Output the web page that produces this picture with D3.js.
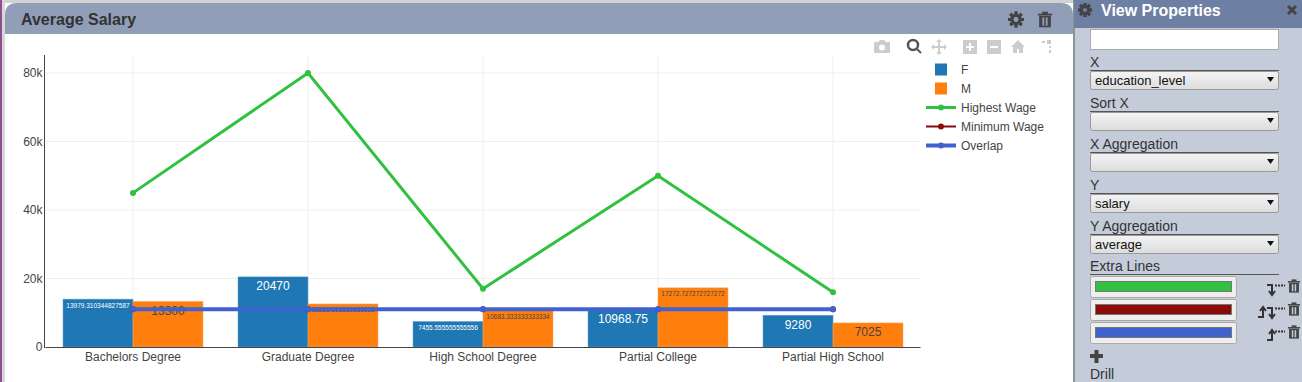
<!DOCTYPE html>
<html>
<head>
<meta charset="utf-8">
<script src="https://cdnjs.cloudflare.com/ajax/libs/d3/7.8.5/d3.min.js"></script>
<style>
html, body { margin: 0; padding: 0; width: 1302px; height: 382px; overflow: hidden; background: #fff; }
text { font-family: "Liberation Sans", Arial, sans-serif; }
</style>
</head>
<body>
<svg id="chart" width="1302" height="382">
  <defs>
    <linearGradient id="selectFill" x1="0" y1="0" x2="0" y2="1">
      <stop offset="0" stop-color="#f4f4f4"></stop>
      <stop offset="1" stop-color="#dcdcdc"></stop>
    </linearGradient>
  </defs>
</svg>
<script>
// chart values
const categories = ["Bachelors Degree", "Graduate Degree", "High School Degree", "Partial College", "Partial High School"];
const femaleSalary = [13979.310344827587, 20470, 7455.555555555556, 10968.75, 9280];
const maleSalary = [13300, 12566.666666666666, 10683.333333333334, 17272.727272727272, 7025];
const highestWage = [45000, 80000, 17000, 50000, 16000];
const minimumWage = [11000, 11000, 11000, 11000, 11000];
const overlap = [11000, 11000, 11000, 11000, 11000];
const yTicks = [0, 20000, 40000, 60000, 80000];
const femaleLabels = ["13979.310344827587", "20470", "7455.555555555556", "10968.75", "9280"];
const maleLabels = ["13300", "12566.666666666666", "10683.333333333334", "17272.727272727272", "7025"];
const legendNames = ["F", "M", "Highest Wage", "Minimum Wage", "Overlap"];
const panelFields = [["X", "education_level"], ["Sort X", ""], ["X Aggregation", ""], ["Y", "salary"], ["Y Aggregation", "average"]];

const svg = d3.select("#chart");

// page frame
svg.append("rect").attr("width", 1302).attr("height", 382).attr("fill", "#fff");
svg.append("rect").attr("width", 1073).attr("height", 3).attr("fill", "#d2d2d2");
svg.append("rect").attr("width", 2).attr("height", 382).attr("fill", "#8d4f8f");
svg.append("rect").attr("x", 2).attr("width", 3).attr("height", 382).attr("fill", "#d8d8d8");
svg.append("path").attr("d", "M5,34V15Q5,3 17,3H1061Q1073,3 1073,15V34Z").attr("fill", "#919eb8");
svg.append("text").attr("x", 21).attr("y", 25).attr("font-size", 16).attr("font-weight", 700).attr("fill", "#333").text("Average Salary");

const Margin = { top: 73, left: 45.5, right: 920.5, bottom: 347 };

const x = d3.scaleBand().domain(categories).range([Margin.left, Margin.right]).padding(0);
const xInner = d3.scaleBand().domain(["F", "M"]).range([17.5, 157.5]);
const y = d3.scaleLinear().domain([0, 80000]).range([Margin.bottom, Margin.top]);
const center = d => x(d) + x.bandwidth() / 2;

// grid
const grid = svg.append("g").attr("stroke", "#eee").attr("stroke-width", 1);
yTicks.slice(1).forEach(t => {
    grid.append("line").attr("x1", Margin.left).attr("x2", Margin.right).attr("y1", y(t)).attr("y2", y(t));
});
categories.forEach(c => {
    grid.append("line").attr("x1", center(c)).attr("x2", center(c)).attr("y1", 55).attr("y2", Margin.bottom);
});

// bars
function drawBars(values, labels, key, fill, edge, textFill) {
    const g = svg.append("g");
    categories.forEach((c, i) => {
        const bx = x(c) + xInner(key);
        const bw = xInner.bandwidth();
        g.append("rect").attr("x", bx).attr("y", y(values[i]))
            .attr("width", bw).attr("height", Margin.bottom - y(values[i]))
            .attr("fill", fill).attr("stroke", edge).attr("stroke-width", 0.5);
        // long numbers are shrunk to fit the bar, like plotly does
        const long = labels[i].length > 10;
        g.append("text").attr("x", bx + bw / 2).attr("y", y(values[i]) + (long ? 8.5 : 13.5))
            .attr("text-anchor", "middle").attr("font-size", long ? 6.5 : 12)
            .attr("fill", textFill).text(labels[i]);
    });
}
drawBars(femaleSalary, femaleLabels, "F", "#1f77b4", "#6aa5cd", "#fff");
drawBars(maleSalary, maleLabels, "M", "#ff7f0e", "#ffa95e", "#444");

// lines
const lineGen = vals => d3.line().x((d, i) => center(categories[i])).y(d => y(d))(vals);
function drawLine(vals, color, w, r) {
    const g = svg.append("g");
    g.append("path").attr("d", lineGen(vals)).attr("fill", "none").attr("stroke", color).attr("stroke-width", w);
    vals.forEach((v, i) => {
        g.append("circle").attr("cx", center(categories[i])).attr("cy", y(v)).attr("r", r).attr("fill", color);
    });
}
drawLine(minimumWage, "#8b0a0a", 2, 3);
drawLine(highestWage, "#2fc13f", 3, 3);
drawLine(overlap, "#4062cf", 4, 3);

// axes
const yAxis = d3.axisLeft(y).tickValues(yTicks).tickSize(0).tickPadding(3)
    .tickFormat(d => d === 0 ? "0" : (d / 1000) + "k");
const yG = svg.append("g").attr("transform", "translate(" + Margin.left + ",0)").call(yAxis);
yG.select(".domain").remove();
yG.selectAll("text").attr("font-size", 12).attr("fill", "#444");
svg.append("line").attr("x1", 44.5).attr("x2", 44.5).attr("y1", 55).attr("y2", 348)
    .attr("stroke", "#444").attr("stroke-width", 1);

const xAxis = d3.axisBottom(x).tickSize(0).tickPadding(5);
const xG = svg.append("g").attr("transform", "translate(0," + Margin.bottom + ")").call(xAxis);
xG.select(".domain").remove();
xG.selectAll("text").attr("font-size", 12).attr("fill", "#444");
svg.append("line").attr("x1", Margin.left).attr("x2", Margin.right).attr("y1", 347.5).attr("y2", 347.5)
    .attr("stroke", "#444").attr("stroke-width", 1);

// legend
const legendColors = ["#1f77b4", "#ff7f0e", "#2fc13f", "#8b0a0a", "#4062cf"];
const legendWidths = [0, 0, 3, 2, 4];
const legend = svg.append("g");
legendNames.forEach((name, i) => {
    const ly = 69.5 + i * 19;
    if (i < 2) {
        legend.append("rect").attr("x", 935).attr("y", ly - 6).attr("width", 12).attr("height", 12).attr("fill", legendColors[i]);
    } else {
        legend.append("line").attr("x1", 926).attr("x2", 956).attr("y1", ly).attr("y2", ly)
            .attr("stroke", legendColors[i]).attr("stroke-width", legendWidths[i]);
        legend.append("circle").attr("cx", 941).attr("cy", ly).attr("r", 3).attr("fill", legendColors[i]);
    }
    legend.append("text").attr("x", 961).attr("y", ly + 4).attr("font-size", 12).attr("fill", "#444").text(name);
});

// modebar
const bar = svg.append("g").attr("fill", "#ccc");
bar.append("path").attr("d", "M875,42h3l2,-2h4l2,2h3q1,0 1,1v9q0,1 -1,1h-14q-1,0 -1,-1v-9q0,-1 1,-1Z");
bar.append("circle").attr("cx", 882).attr("cy", 47.5).attr("r", 3).attr("fill", "#fff");
svg.append("circle").attr("cx", 913).attr("cy", 45).attr("r", 5).attr("fill", "#fff").attr("stroke", "#555").attr("stroke-width", 2.5);
svg.append("line").attr("x1", 917).attr("y1", 49).attr("x2", 921).attr("y2", 53).attr("stroke", "#555").attr("stroke-width", 2);
bar.append("path").attr("d", "M938,42h2v10h-2ZM933,46h12v2h-12Z");
bar.append("path").attr("d", "M939,39l3,3h-6ZM939,55l3,-3h-6ZM931,47l3,-3v6ZM947,47l-3,-3v6Z");
[970, 994].forEach((bx, i) => {
    bar.append("rect").attr("x", bx - 7).attr("y", 40).attr("width", 14).attr("height", 14);
    bar.append("rect").attr("x", bx - 4).attr("y", 46).attr("width", 8).attr("height", 2).attr("fill", "#fff");
    if (i === 0) bar.append("rect").attr("x", bx - 1).attr("y", 43).attr("width", 2).attr("height", 8).attr("fill", "#fff");
});
bar.append("path").attr("d", "M1011,47l7,-7l7,7h-2v6h-4v-4h-2v4h-4v-6Z");
bar.append("path").attr("d", "M1042,41h3v2h-3ZM1047,40h4v4h-4ZM1049,46h2v2h-2ZM1049,50h2v3h-2Z");

// panel icons
function gear(cx, cy, r, color, hole) {
    const g = svg.append("g").attr("fill", color);
    for (let a = 0; a < 8; a++) {
        g.append("rect").attr("x", cx - 1.5).attr("y", cy - r).attr("width", 3).attr("height", r * 2)
            .attr("transform", "rotate(" + a * 45 + " " + cx + " " + cy + ")");
    }
    g.append("circle").attr("cx", cx).attr("cy", cy).attr("r", r * 0.72);
    g.append("circle").attr("cx", cx).attr("cy", cy).attr("r", r * 0.3).attr("fill", hole);
}
function trash(tx, ty, s, color, hole) {
    const g = svg.append("g").attr("fill", color);
    g.append("rect").attr("x", tx - s * 0.55).attr("y", ty - s * 0.45).attr("width", s * 1.1).attr("height", s * 0.14);
    g.append("rect").attr("x", tx - s * 0.22).attr("y", ty - s * 0.6).attr("width", s * 0.44).attr("height", s * 0.18);
    g.append("path").attr("d", "M" + (tx - s * 0.45) + "," + (ty - s * 0.28) + "h" + s * 0.9 + "v" + s * 0.88 + "h-" + s * 0.9 + "Z");
    [-0.2, 0.06].forEach(o => {
        g.append("rect").attr("x", tx + o * s).attr("y", ty - s * 0.16).attr("width", s * 0.14).attr("height", s * 0.64).attr("fill", hole);
    });
}
gear(1016, 19.5, 8, "#444", "#919eb8");
trash(1045, 19.5, 13, "#444", "#919eb8");

// side panel
const side = svg.append("g");
side.append("rect").attr("x", 1073).attr("width", 229).attr("height", 382).attr("fill", "#c4ccd9");
side.append("rect").attr("x", 1073).attr("width", 2).attr("height", 382).attr("fill", "#8e929a");
side.append("rect").attr("x", 1074).attr("width", 228).attr("height", 28).attr("fill", "#6d7fa3");
gear(1085, 10, 7, "#444", "#6d7fa3");
side.append("text").attr("x", 1101).attr("y", 16).attr("font-size", 16).attr("font-weight", 700).attr("fill", "#fff").text("View Properties");
side.append("path").attr("d", "M1288,6l8,8M1296,6l-8,8").attr("stroke", "#444").attr("stroke-width", 3);
side.append("rect").attr("x", 1090.5).attr("y", 29.5).attr("width", 188).attr("height", 20).attr("fill", "#fff").attr("stroke", "#aaa");

const fieldY = [67, 108, 149, 190, 231];
panelFields.forEach((f, i) => {
    const fy = fieldY[i];
    side.append("text").attr("x", 1090).attr("y", fy).attr("font-size", 14).attr("fill", "#333").text(f[0]);
    side.append("line").attr("x1", 1090).attr("x2", 1279).attr("y1", fy + 3.5).attr("y2", fy + 3.5).attr("stroke", "#555");
    side.append("rect").attr("x", 1090.5).attr("y", fy + 4.5).attr("width", 188).attr("height", 18).attr("rx", 2).attr("fill", "url(#selectFill)").attr("stroke", "#999");
    side.append("text").attr("x", 1095).attr("y", fy + 18).attr("font-size", 13).attr("fill", "#111").text(f[1]);
    side.append("path").attr("d", "M1267," + (fy + 10) + "h7l-3.5,5Z").attr("fill", "#111");
});

side.append("text").attr("x", 1090).attr("y", 271).attr("font-size", 14).attr("fill", "#333").text("Extra Lines");
side.append("line").attr("x1", 1090).attr("x2", 1279).attr("y1", 274.5).attr("y2", 274.5).attr("stroke", "#555");
const swatchColors = ["#2fc13f", "#8b0a0a", "#4062cf"];
swatchColors.forEach((c, i) => {
    const sy = 276 + i * 23;
    side.append("rect").attr("x", 1090.5).attr("y", sy + 0.5).attr("width", 146).attr("height", 21).attr("rx", 2).attr("fill", "#eee").attr("stroke", "#aaa");
    side.append("rect").attr("x", 1095.5).attr("y", sy + 5.5).attr("width", 136).attr("height", 10).attr("fill", c).attr("stroke", "#777");
    side.append("path").attr("d", "M1275," + (sy + 9.5) + "h10").attr("stroke", "#333").attr("stroke-width", 2).attr("stroke-dasharray", "2,1");
    trash(1294, sy + 10, 11, "#444", "#c4ccd9");
});
side.append("path").attr("d", "M1267,285h5v9M1269,291l3,4l3,-4").attr("fill", "none").attr("stroke", "#333").attr("stroke-width", 2);
side.append("path").attr("d", "M1267,308h5v9M1269,314l3,4l3,-4").attr("fill", "none").attr("stroke", "#333").attr("stroke-width", 2);
side.append("path").attr("d", "M1258,317h5v-9M1260,311l3,-4l3,4").attr("fill", "none").attr("stroke", "#333").attr("stroke-width", 2);
side.append("path").attr("d", "M1267,340h5v-9M1269,334l3,-4l3,4").attr("fill", "none").attr("stroke", "#333").attr("stroke-width", 2);
side.append("path").attr("d", "M1090,356h13M1096.5,350v13").attr("stroke", "#444").attr("stroke-width", 4);
side.append("text").attr("x", 1090).attr("y", 379).attr("font-size", 14).attr("fill", "#333").text("Drill");
</script>
</body>
</html>
